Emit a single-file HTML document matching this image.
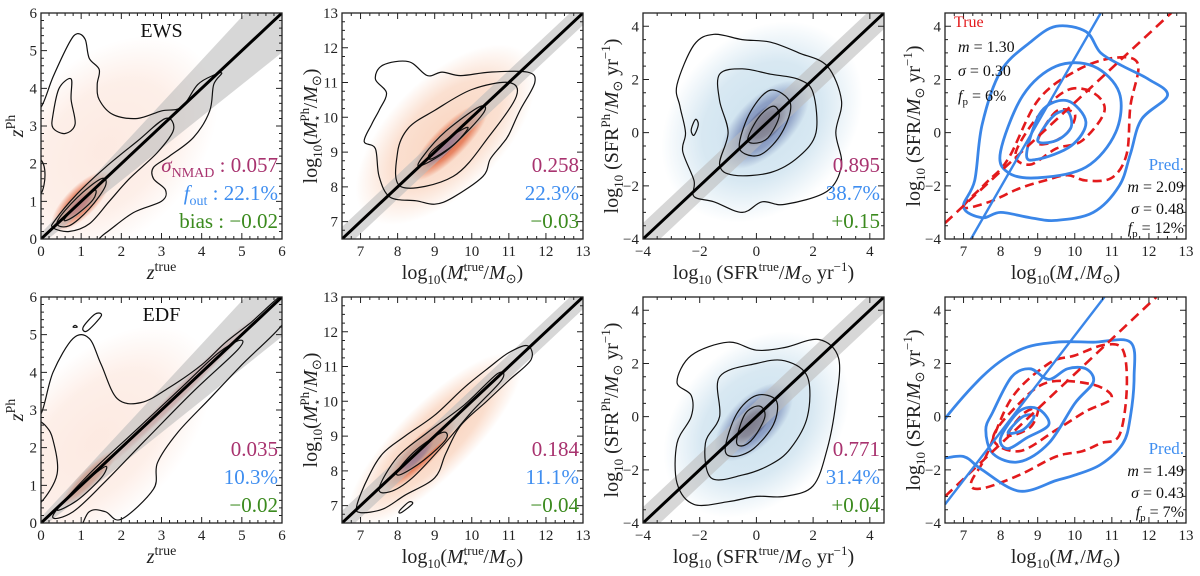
<!DOCTYPE html>
<html><head><meta charset="utf-8">
<style>
html,body{margin:0;padding:0;background:#fff;}
svg{display:block;font-family:"Liberation Serif",serif;}
.tick{font-size:15px;fill:#222;}
.lab{font-size:20px;fill:#222;}
.it{font-style:italic;}
</style></head>
<body>
<svg id="fig" width="1200" height="576" viewBox="0 0 1200 576" xmlns="http://www.w3.org/2000/svg">
<defs id="defs"></defs>
</svg>
<script>
// ---------- data ----------
const panelNames = ["ews-redshift","ews-mass","ews-sfr","ews-main-sequence","edf-redshift","edf-mass","edf-sfr","edf-main-sequence"];
const xDomains = [[0,6],[6.5,13],[-4,4.5],[6.5,13],[0,6],[6.5,13],[-4,4.5],[6.5,13]];
const yDomains = [[0,6],[6.5,13],[-4,4.5],[-4,4.5],[0,6],[6.5,13],[-4,4.5],[-4,4.5]];
const xTicks = [[0,1,2,3,4,5,6],[7,8,9,10,11,12,13],[-4,-2,0,2,4],[7,8,9,10,11,12,13],[0,1,2,3,4,5,6],[7,8,9,10,11,12,13],[-4,-2,0,2,4],[7,8,9,10,11,12,13]];
const yTicks = [[0,1,2,3,4,5,6],[7,8,9,10,11,12,13],[-4,-2,0,2,4],[-4,-2,0,2,4],[0,1,2,3,4,5,6],[7,8,9,10,11,12,13],[-4,-2,0,2,4],[-4,-2,0,2,4]];
const bandHalfWidth = ["z",0.35,0.6,null,"z",0.35,0.6,null];
const statSigma = ["0.057","0.258","0.895","","0.035","0.184","0.771",""];
const statFout = ["22.1%","22.3%","38.7%","","10.3%","11.1%","31.4%",""];
const statBias = ["\u22120.02","\u22120.03","+0.15","","\u22120.02","\u22120.04","+0.04",""];
// density blobs: [cx, cy, half-length along diagonal, half-width, intensity]
const blobs = [
 [[1.6,2.4,3.0,2.0,0.3],[1.0,1.0,0.9,0.35,0.9],[0.95,0.9,0.45,0.15,1]],
 [[9.3,9.5,2.8,1.4,0.55],[9.4,9.3,1.3,0.4,0.95],[9.3,9.15,0.7,0.15,1]],
 [[0.2,0.4,3.6,2.8,0.6],[0.3,0.3,1.8,0.9,0.9],[0.3,0.3,0.9,0.45,1]],
 [],
 [[1.4,2.2,3.2,1.8,0.3],[1.2,1.2,0.9,0.2,0.9],[3.5,3.5,2.5,0.15,0.5]],
 [[9.0,8.9,2.9,0.9,0.6],[8.6,8.5,1.2,0.35,0.95],[8.5,8.4,0.6,0.15,1]],
 [[0,-0.3,3.4,2.5,0.6],[-0.1,-0.2,1.6,0.8,0.9],[-0.2,-0.3,0.8,0.4,1]],
 []
];
// black density contours (data coords, closed)
const contours = [
 [ [[-0.3,3.4],[0,3.5],[0.3,4.3],[0.7,5.2],[0.9,5.45],[1.1,5.3],[1.2,4.8],[1.45,4.5],[1.4,4.1],[1.45,3.7],[1.8,3.3],[2.4,3.2],[3.0,3.4],[3.5,3.5],[3.9,4.1],[4.3,4.35],[4.5,4.4],[4.3,4.1],[4.2,3.4],[3.8,2.7],[3.2,2.2],[2.8,1.9],[2.8,1.6],[3.1,1.3],[3.0,1.0],[2.3,0.7],[1.6,0.15],[1.0,-0.3],[-0.3,-0.3],[-0.3,1.0],[0,1.2],[0.1,1.7],[0,2.1],[-0.3,2.2]],
   [[0.3,3.3],[0.45,4.0],[0.75,4.25],[0.75,3.7],[0.85,3.05],[0.6,2.8],[0.3,2.95]],
   [[0.35,0.5],[0.9,1.2],[1.6,1.9],[2.4,2.6],[3.1,3.2],[3.3,2.9],[2.9,2.3],[2.2,1.6],[1.7,1.0],[1.2,0.4],[0.7,0.2],[0.3,0.3]],
   [[0.4,0.45],[0.9,1.1],[1.5,1.6],[1.6,1.4],[1.2,0.8],[0.7,0.35]],
   [[0.6,0.55],[1.0,1.0],[1.35,1.3],[1.3,1.05],[0.95,0.7],[0.65,0.5]] ],
 [ [[7.1,9.3],[7.4,9.1],[7.5,8.3],[7.8,7.7],[8.5,7.6],[9.0,7.5],[9.5,7.7],[10.3,8.3],[10.5,8.8],[10.8,9.2],[11.0,9.5],[11.3,10.2],[11.7,11.0],[11.5,11.3],[10.5,11.3],[9.7,11.2],[9.2,11.3],[8.8,11.2],[8.3,11.6],[7.6,11.5],[7.4,11.1],[7.7,10.7],[7.5,10.2],[7.3,9.8]],
   [[8.1,8.0],[9.5,8.3],[10.5,9.5],[11.2,10.6],[11.0,11.0],[10.0,10.8],[9.0,10.2],[8.3,9.7],[8.0,9.0]],
   [[8.6,8.6],[9.4,9.1],[10.3,10.1],[10.2,10.3],[9.3,9.6],[8.7,8.9]],
   [[8.9,8.8],[9.5,9.2],[9.9,9.7],[9.5,9.5],[8.9,9.0]] ],
 [ [[-2.8,1.8],[-2.2,3.3],[-1.5,3.7],[-0.5,3.5],[0.5,3.4],[1.5,3.0],[2.5,2.5],[3.0,1.2],[2.8,0],[3.0,-1.2],[2.5,-2.2],[1.0,-2.7],[0.2,-2.6],[-0.5,-3.0],[-1.5,-2.6],[-2.2,-2.4],[-2.2,-1.8],[-2.6,-0.7],[-2.5,0],[-2.7,1.0]],
   [[-1.3,2.2],[-0.5,2.4],[0.5,2.2],[1.5,2.0],[2.0,1.5],[2.1,0],[1.5,-0.9],[0.5,-1.5],[-0.8,-1.6],[-1.3,-1.2],[-1.0,0],[-1.3,1.2]],
   [[-0.6,-0.4],[-0.2,0.8],[0.5,1.6],[1.2,1.1],[0.9,0],[0.2,-0.8],[-0.4,-0.8]],
   [[-0.3,-0.2],[0.1,0.6],[0.6,1.0],[0.8,0.6],[0.4,-0.2],[-0.1,-0.4]],
   [[-2.3,0.1],[-2.15,0.5],[-2.05,0.3],[-2.2,-0.1]] ],
 [],
 [ [[-0.3,2.9],[0,2.9],[0.3,4.0],[0.8,4.9],[1.2,4.9],[1.5,4.2],[1.9,3.3],[2.5,3.2],[3.2,3.6],[4.0,4.2],[4.6,4.8],[5.2,5.3],[6.1,6.1],[6.1,5.4],[5.0,4.2],[4.2,3.3],[3.4,2.4],[2.9,1.6],[2.8,0.9],[2.0,0.1],[1.6,0.3],[1.2,0.3],[0.8,-0.3],[-0.3,-0.3],[-0.3,0.5],[0,0.55],[0.4,1.3],[0.3,2.2],[0.1,2.6]],
   [[0.3,0.2],[1.2,1.3],[2.4,2.5],[3.5,3.6],[4.4,4.5],[4.95,4.85],[4.9,4.6],[3.8,3.5],[2.6,2.2],[1.6,1.1],[0.8,0.3]],
   [[0.4,0.35],[1.0,1.0],[1.6,1.5],[1.5,1.2],[0.9,0.6]],
   [[1.05,5.2],[1.35,5.55],[1.5,5.5],[1.15,5.1]],
   [[0.8,5.2],[0.85,5.25],[0.9,5.2]] ],
 [ [[6.9,7.0],[7.2,7.8],[7.6,8.5],[8.2,9.0],[9.0,9.6],[9.8,10.4],[10.5,11.0],[11.0,11.4],[11.5,11.6],[11.6,11.2],[11.0,10.6],[10.4,10.0],[9.7,9.3],[9.3,8.5],[9.0,7.8],[8.2,7.3],[7.6,6.9],[7.0,6.8]],
   [[7.5,7.5],[8.0,8.4],[8.8,9.1],[9.8,9.9],[10.7,10.8],[10.8,10.6],[10.0,9.7],[9.2,8.7],[8.4,7.8],[7.8,7.4]],
   [[8.0,8.0],[8.5,8.6],[9.2,9.1],[9.3,8.9],[8.7,8.3],[8.1,7.9]],
   [[8.1,6.8],[8.4,7.05],[8.3,7.1],[8.05,6.85]] ],
 [ [[-2.8,1.3],[-2.3,2.3],[-1.0,2.8],[0,2.5],[1.0,2.6],[2.2,2.9],[2.9,2.2],[2.8,0.5],[2.5,-1.2],[2.0,-2.6],[1.0,-3.0],[0,-3.0],[-1.0,-3.2],[-2.2,-3.3],[-2.8,-2.5],[-2.8,-1.0],[-2.3,0],[-2.3,0.8]],
   [[-1.3,1.5],[0,2.0],[1.0,2.1],[1.8,1.5],[1.8,0],[1.2,-1.2],[0.5,-1.8],[-0.5,-2.2],[-1.6,-2.3],[-1.8,-1.0],[-1.3,0]],
   [[-1.1,-1.2],[-0.7,0.1],[0,0.8],[0.7,0.6],[0.6,-0.3],[-0.1,-1.2],[-0.8,-1.5]],
   [[-0.7,-0.9],[-0.4,0.1],[0.1,0.4],[0.3,0],[-0.1,-0.8],[-0.5,-1.1]] ],
 []
];
// main-sequence panels: blue solid (pred) & red dashed (true) contours
const blueContours = [[],[],[],
 [ [[7.0,-2.8],[7.3,-1.8],[7.5,0.3],[8.0,2.3],[8.8,3.4],[9.5,4.0],[10.3,3.8],[10.7,3.0],[11.3,2.5],[12.0,2.0],[12.5,1.4],[11.8,0.5],[11.5,-0.8],[11.2,-2.0],[10.5,-3.0],[9.5,-3.3],[8.8,-3.2],[8.0,-3.0],[7.5,-3.2]],
   [[8.0,-0.7],[8.6,1.4],[9.5,2.5],[10.5,2.5],[11.2,1.5],[11.1,0],[10.3,-1.3],[9.0,-1.7],[8.2,-1.5]],
   [[8.7,-0.8],[9.1,0.8],[9.8,1.2],[10.3,0.4],[9.9,-0.5],[9.0,-1.0]],
   [[9.0,-0.3],[9.4,0.6],[9.8,0.8],[9.9,0.2],[9.5,-0.3]] ],
 [],[],[],
 [ [[6.3,-0.5],[7.5,1.5],[8.5,2.5],[9.5,2.8],[10.5,2.8],[11.5,2.8],[11.6,1.5],[11.5,0],[11.3,-1.0],[10.7,-1.8],[10,-2.2],[9.5,-2.4],[8.5,-2.8],[7.5,-2.0],[7.0,-1.5],[6.3,-1.5]],
   [[7.8,0.2],[8.3,1.5],[8.8,1.8],[9.3,1.4],[9.8,1.8],[10.3,1.8],[10.5,1.3],[10.0,0.5],[9.3,-1.0],[8.5,-1.7],[7.8,-1.4],[7.6,-0.5]],
   [[8.0,-0.8],[8.5,0.2],[9.0,0.3],[9.3,-0.3],[8.7,-0.8],[8.2,-1.2]],
   [[8.2,-0.6],[8.6,0],[8.9,0],[8.6,-0.5]] ]
];
const redContours = [[],[],[],
 [ [[7.0,-2.8],[7.6,-1.9],[8.2,-1.0],[9.0,1.2],[10.0,2.3],[11.0,2.8],[11.7,2.6],[11.5,1.0],[11.4,-0.8],[11.0,-1.7],[10.3,-1.8],[9.8,-1.6],[9.2,-1.8],[8.5,-2.1],[7.7,-2.6]],
   [[8.4,-0.8],[9.0,0.6],[9.8,1.6],[10.5,1.5],[10.8,0.8],[10.2,-0.3],[9.5,-0.6],[8.8,-1.2]],
   [[9.0,-0.3],[9.5,0.8],[10.0,0.7],[9.8,0],[9.3,-0.4]] ],
 [],[],[],
 [ [[7.2,-2.5],[7.6,-1.5],[8.3,0.7],[9.3,2.0],[10,2.3],[10.8,2.7],[11.3,2.5],[11.4,1.0],[11.2,-0.7],[10.7,-1.0],[10.2,-1.3],[9.5,-1.5],[8.5,-2.2],[7.5,-2.7]],
   [[7.8,-0.8],[8.5,0.5],[9.3,1.3],[10.5,1.2],[11.0,0.7],[10.3,0.2],[9.5,-0.5],[8.5,-1.3]],
   [[8.2,-0.7],[8.6,0.1],[9.0,0.3],[8.8,-0.4]] ]
];
// fitted lines [x1,y1,x2,y2]
const blueFit = [null,null,null,[7.2,-4,10.7,4.5],null,null,null,[6.5,-3.3,10.8,4.5]];
const redFit = [null,null,null,[6.5,-3.4,12.6,4.5],null,null,null,[6.5,-3.0,12.2,4.5]];
const msTrue = [null,null,null,["1.30","0.30","6%"],null,null,null,null];
const msPred = [null,null,null,["2.09","0.48","12%"],null,null,null,["1.49","0.43","7%"]];

// ---------- layout ----------
const svg = document.getElementById('fig');
const defs = document.getElementById('defs');
const NS = "http://www.w3.org/2000/svg";
const colL = [41,342,643,945], colW = 241;
const rowT = [13,297], rowH = 226;
const heatColors = [["#f7b89c","#e0623a","#b8272a"],["#f5b48f","#e0623a","#6e1d52"],["#a9cde3","#6d7fb0","#221f46"]];

function el(tag, attrs, parent){
  const e = document.createElementNS(NS, tag);
  for (const k in attrs) e.setAttribute(k, attrs[k]);
  (parent||svg).appendChild(e);
  return e;
}
function smooth(pts){
  const n = pts.length; let d = "M"+pts[0][0].toFixed(1)+","+pts[0][1].toFixed(1);
  for (let i=0;i<n;i++){
    const p0=pts[(i-1+n)%n], p1=pts[i], p2=pts[(i+1)%n], p3=pts[(i+2)%n];
    const c1=[p1[0]+(p2[0]-p0[0])/6, p1[1]+(p2[1]-p0[1])/6];
    const c2=[p2[0]-(p3[0]-p1[0])/6, p2[1]-(p3[1]-p1[1])/6];
    d+=" C"+c1[0].toFixed(1)+","+c1[1].toFixed(1)+" "+c2[0].toFixed(1)+","+c2[1].toFixed(1)+" "+p2[0].toFixed(1)+","+p2[1].toFixed(1);
  }
  return d+"Z";
}

for (let p=0;p<8;p++){
  const col=p%4, row=Math.floor(p/4);
  const L=colL[col], T=rowT[row], W=colW, H=rowH;
  const xd=xDomains[p], yd=yDomains[p];
  const X=v=>L+(v-xd[0])/(xd[1]-xd[0])*W;
  const Y=v=>T+H-(v-yd[0])/(yd[1]-yd[0])*H;
  const g = el('g',{});
  
  
  const cid='clip'+p;
  const cp=el('clipPath',{id:cid},defs); el('rect',{x:L,y:T,width:W,height:H},cp);
  const inner = el('g',{'clip-path':'url(#'+cid+')'},g);
  
  

  // density
  blobs[p].forEach((b,i)=>{
    const pal=heatColors[col<3?col:0];
    const gid='gr'+p+'_'+i;
    const rg=el('radialGradient',{id:gid},defs);
    el('stop',{offset:'0%','stop-color':pal[Math.min(2,i)],'stop-opacity':b[4]},rg);
    el('stop',{offset:'60%','stop-color':pal[Math.min(2,i)],'stop-opacity':b[4]*0.75},rg);
    el('stop',{offset:'100%','stop-color':pal[Math.min(2,i)],'stop-opacity':0},rg);
    const sx=W/(xd[1]-xd[0]);
    const e=el('ellipse',{cx:X(b[0]),cy:Y(b[1]),rx:b[2]*sx*1.1,ry:b[3]*sx*1.1,fill:'url(#'+gid+')',transform:'rotate(-45 '+X(b[0])+' '+Y(b[1])+')'},inner);
    
    
  });
  // band
  if (bandHalfWidth[p]!==null){
    let pts;
    if (bandHalfWidth[p]==="z"){
      pts=[[xd[0],xd[0]+0.15*(1+xd[0])],[xd[1],xd[1]+0.15*(1+xd[1])],[xd[1],xd[1]-0.15*(1+xd[1])],[xd[0],xd[0]-0.15*(1+xd[0])]];
    } else {
      const h=bandHalfWidth[p];
      pts=[[xd[0]-1,xd[0]-1+h],[xd[1]+1,xd[1]+1+h],[xd[1]+1,xd[1]+1-h],[xd[0]-1,xd[0]-1-h]];
    }
    const b=el('polygon',{points:pts.map(q=>X(q[0])+','+Y(q[1])).join(' '),fill:'#bdbdbd','fill-opacity':0.6},inner);
    
    
  }
  // contours
  contours[p].forEach(c=>{
    const e=el('path',{d:smooth(c.map(q=>[X(q[0]),Y(q[1])])),fill:'none',stroke:'#111','stroke-width':1.2},inner);
    
    
  });
  if (bandHalfWidth[p]!==null){
    const o=el('line',{x1:X(xd[0]-1),y1:Y(xd[0]-1),x2:X(xd[1]+1),y2:Y(xd[1]+1),stroke:'#000','stroke-width':3},inner);
    
    
  }
  redContours[p].forEach(c=>{
    const e=el('path',{d:smooth(c.map(q=>[X(q[0]),Y(q[1])])),fill:'none',stroke:'#e31a1c','stroke-width':2.6,'stroke-dasharray':'9,5'},inner);
    
    
  });
  blueContours[p].forEach(c=>{
    const e=el('path',{d:smooth(c.map(q=>[X(q[0]),Y(q[1])])),fill:'none',stroke:'#3a86e8','stroke-width':2.8},inner);
    
    
  });
  if (redFit[p]){
    const f=redFit[p];
    const r=el('line',{x1:X(f[0]),y1:Y(f[1]),x2:X(f[2]),y2:Y(f[3]),stroke:'#e31a1c','stroke-width':2.6,'stroke-dasharray':'10,6'},inner);
    
    
    const f2=blueFit[p];
    const b=el('line',{x1:X(f2[0]),y1:Y(f2[1]),x2:X(f2[2]),y2:Y(f2[3]),stroke:'#3a86e8','stroke-width':2.4},inner);
    
    
  }
  // frame & ticks
  const fr=el('rect',{x:L,y:T,width:W,height:H,fill:'none',stroke:'#222','stroke-width':1.3},g);
  
  
  const minorX=(xd[1]-xd[0])>7?0.5:(xd[1]-xd[0])>6.2?0.25:0.2;
  let tk="";
  for(let v=Math.ceil(xd[0]/minorX)*minorX; v<=xd[1]+1e-9; v+=minorX){
    const major=xTicks[p].some(t=>Math.abs(t-v)<1e-6), len=major?6:3, x=X(v);
    tk+=`M${x},${T+H}v${-len}M${x},${T}v${len}`;
  }
  const minorY=(yd[1]-yd[0])>7?0.5:(yd[1]-yd[0])>6.2?0.25:0.2;
  for(let v=Math.ceil(yd[0]/minorY)*minorY; v<=yd[1]+1e-9; v+=minorY){
    const major=yTicks[p].some(t=>Math.abs(t-v)<1e-6), len=major?6:3, y=Y(v);
    tk+=`M${L},${y}h${len}M${L+W},${y}h${-len}`;
  }
  el('path',{d:tk,stroke:'#222','stroke-width':1,fill:'none'},g);
  xTicks[p].forEach(v=>{
    const t=el('text',{x:X(v),y:T+H+17,'text-anchor':'middle',class:'tick'},g);
    t.textContent=(v<0?'\u2212'+(-v):''+v);
    
    
  });
  yTicks[p].forEach(v=>{
    const t=el('text',{x:L-4,y:Y(v)+5,'text-anchor':'end',class:'tick'},g);
    t.textContent=(v<0?'\u2212'+(-v):''+v);
    
    
  });
  // stats
  if (statSigma[p]){
    const r=L+W-4;
    const mk=(y,color,html,name)=>{
      const t=el('text',{x:r,y:y,'text-anchor':'end',fill:color,'font-size':21},g);
      t.innerHTML=html;
      
      
    };
    const yb=T+159;
    if (p===0){
      mk(yb,'#a8336f','<tspan font-style="italic">σ</tspan><tspan font-size="14" dy="5">NMAD</tspan><tspan dy="-5"> : '+statSigma[p]+'</tspan>','sigma-nmad-stat');
      mk(yb+28,'#3f8ef0','<tspan font-style="italic">f</tspan><tspan font-size="14" dy="5">out</tspan><tspan dy="-5"> : '+statFout[p]+'</tspan>','outlier-fraction-stat');
      mk(yb+56,'#3b8a1e','bias : '+statBias[p],'bias-stat');
    } else {
      mk(yb,'#a8336f',statSigma[p],'sigma-nmad-stat');
      mk(yb+28,'#3f8ef0',statFout[p],'outlier-fraction-stat');
      mk(yb+56,'#3b8a1e',statBias[p],'bias-stat');
    }
  }
  // main-sequence annotations
  const ann=(x,y,anchor,color,html,name,fs)=>{
    const t=el('text',{x:x,y:y,'text-anchor':anchor,fill:color,'font-size':fs||16},g);
    t.innerHTML=html;
    
    
  };
  if (msTrue[p]){
    ann(L+9,T+14,'start','#e31a1c','True','true-legend-label');
    ann(L+13,T+39,'start','#111','<tspan font-style="italic">m</tspan> = '+msTrue[p][0],'true-slope');
    ann(L+13,T+63,'start','#111','<tspan font-style="italic">σ</tspan> = '+msTrue[p][1],'true-scatter');
    ann(L+13,T+88,'start','#111','<tspan font-style="italic">f</tspan><tspan font-size="11" dy="4">p</tspan><tspan dy="-4"> = '+msTrue[p][2]+'</tspan>','true-fraction');
  }
  if (msPred[p]){
    ann(L+W-2,T+157,'end','#3f8ef0','Pred.','pred-legend-label',17);
    ann(L+W-2,T+179,'end','#111','<tspan font-style="italic">m</tspan> = '+msPred[p][0],'pred-slope');
    ann(L+W-2,T+201,'end','#111','<tspan font-style="italic">σ</tspan> = '+msPred[p][1],'pred-scatter');
    ann(L+W-2,T+220,'end','#111','<tspan font-style="italic">f</tspan><tspan font-size="11" dy="4">p</tspan><tspan dy="-4"> = '+msPred[p][2]+'</tspan>','pred-fraction');
  }
  if (p===0||p===4){
    ann(L+W/2,T+24,'middle','#111',p===0?'EWS':'EDF','field-label',20);
  }
  // axis labels
  const cx=L+W/2, ly=T+H+40;
  const xl=el('text',{x:cx,y:ly,'text-anchor':'middle',class:'lab'},g);
  const yl=el('text',{x:0,y:0,'text-anchor':'middle',class:'lab',transform:`translate(${L-25},${T+H/2}) rotate(-90)`},g);
  const sub10='log<tspan font-size="13" dy="5">10</tspan><tspan dy="-5">';
  if (col===0){
    xl.innerHTML='<tspan font-style="italic">z</tspan><tspan font-size="14" dy="-8">true</tspan>';
    yl.innerHTML='<tspan font-style="italic">z</tspan><tspan font-size="14" dy="-8">Ph</tspan>';
    yl.setAttribute('transform',`translate(${L-18},${T+H/2}) rotate(-90)`);
  } else if (col===1){
    xl.innerHTML=sub10+'(</tspan><tspan font-style="italic">M</tspan><tspan font-size="13" dy="-8">true</tspan><tspan font-size="12" dx="-22" dy="12">⋆</tspan><tspan dx="14" dy="-4">/</tspan><tspan font-style="italic">M</tspan><tspan font-size="13" dy="4">⊙</tspan><tspan dy="-4">)</tspan>';
    yl.innerHTML=sub10+'(</tspan><tspan font-style="italic">M</tspan><tspan font-size="13" dy="-8">Ph</tspan><tspan font-size="12" dx="-14" dy="12">⋆</tspan><tspan dx="6" dy="-4">/</tspan><tspan font-style="italic">M</tspan><tspan font-size="13" dy="4">⊙</tspan><tspan dy="-4">)</tspan>';
  } else if (col===2){
    xl.innerHTML=sub10+' (SFR</tspan><tspan font-size="13" dy="-8">true</tspan><tspan dy="8">/</tspan><tspan font-style="italic">M</tspan><tspan font-size="13" dy="4">⊙</tspan><tspan dy="-4"> yr</tspan><tspan font-size="13" dy="-8">−1</tspan><tspan dy="8">)</tspan>';
    yl.innerHTML=sub10+' (SFR</tspan><tspan font-size="13" dy="-8">Ph</tspan><tspan dy="8">/</tspan><tspan font-style="italic">M</tspan><tspan font-size="13" dy="4">⊙</tspan><tspan dy="-4"> yr</tspan><tspan font-size="13" dy="-8">−1</tspan><tspan dy="8">)</tspan>';
  } else {
    xl.innerHTML=sub10+'(</tspan><tspan font-style="italic">M</tspan><tspan font-size="12" dy="4">⋆</tspan><tspan dy="-4">/</tspan><tspan font-style="italic">M</tspan><tspan font-size="13" dy="4">⊙</tspan><tspan dy="-4">)</tspan>';
    yl.innerHTML=sub10+' (SFR/</tspan><tspan font-style="italic">M</tspan><tspan font-size="13" dy="4">⊙</tspan><tspan dy="-4"> yr</tspan><tspan font-size="13" dy="-8">−1</tspan><tspan dy="8">)</tspan>';
  }
  
  
  
  
}
</script>
</body></html>
